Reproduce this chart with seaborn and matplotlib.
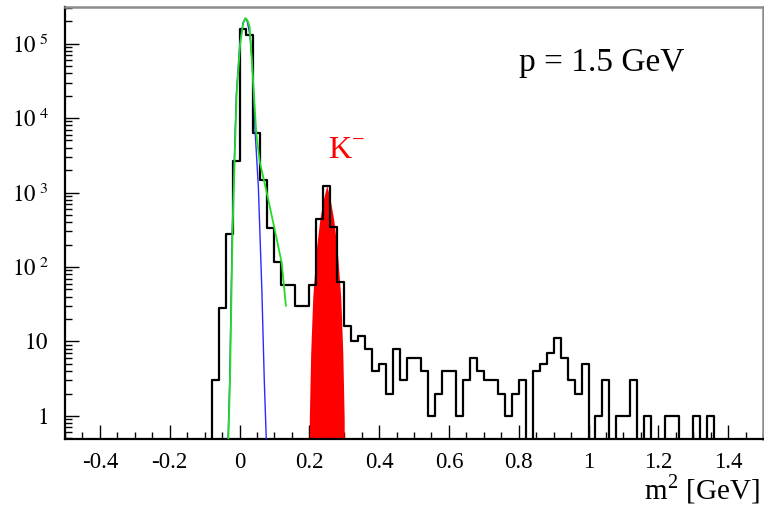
import numpy as np
import pandas as pd
import matplotlib
matplotlib.use("Agg")
import matplotlib.pyplot as plt
import seaborn as sns
from matplotlib.ticker import MultipleLocator, FuncFormatter, LogLocator, NullFormatter

# ---------------- data ----------------
bin_start = -0.10
bin_width = 0.02
counts = [0,
          3, 28, 277, 2650, 156000, 130000, 6300, 1470, 334, 117,
          57, 57, 30, 30, 57, 435, 1220, 345, 63, 16,
          10, 12, 8, 4, 5, 2, 8, 3, 6, 6,
          4, 1, 2, 4, 4, 1, 3, 6, 4, 3,
          3, 2, 1, 2, 3, 0, 4, 5, 7, 11,
          6, 3, 2, 5, 0, 1, 3, 0, 1, 1,
          3, 0, 1, 0, 0, 1, 1, 0, 0, 1,
          0, 1,
          0]

blue_x = [-0.033, -0.028, -0.021, -0.015, -0.009, 0.001, 0.010, 0.016, 0.022,
          0.030, 0.037, 0.045, 0.054, 0.064, 0.071, 0.077]
blue_y = [0.45, 3.0, 280, 2700, 21000, 100000, 190000, 215000, 200000,
          130000, 50000, 6300, 1200, 50, 3, 0.45]

green_x = [-0.032, -0.027, -0.020, -0.014, -0.008, 0.002, 0.011, 0.017, 0.023,
           0.029, 0.037, 0.048, 0.058, 0.078, 0.099, 0.121, 0.133]
green_y = [0.45, 3.4, 285, 2700, 22000, 100000, 190000, 220000, 205000,
           170000, 45000, 6300, 2600, 1000, 350, 113, 30]

kaon_x = [0.200, 0.204, 0.210, 0.220, 0.230, 0.240, 0.250,
          0.260, 0.270, 0.280, 0.290, 0.296, 0.300]
kaon_y = [0.9, 7, 40, 170, 430, 800, 1250,
          800, 430, 170, 40, 7, 0.9]

x_tick_values = [-0.4, -0.2, 0, 0.2, 0.4, 0.6, 0.8, 1, 1.2, 1.4]

# ---------------- style ----------------
sns.set_style("ticks")
plt.rcParams["font.family"] = ["Liberation Serif", "DejaVu Serif"]
plt.rcParams["mathtext.fontset"] = "stix"

W, H = 764, 512
fig = plt.figure(figsize=(W / 100, H / 100), dpi=100)
L, R, T, B = 65, 763, 7, 439
ax = fig.add_axes([L / W, 1 - B / H, (R - L) / W, (B - T) / H])

n = len(counts)
centers = [bin_start + bin_width * (i + 0.5) for i in range(n)]
df = pd.DataFrame({"m2": centers, "n": counts})

# kaon band (filled)
ax.fill_between(kaon_x, kaon_y, 1e-3, color="#ff0000", linewidth=0, zorder=2)

# histogram
sns.histplot(data=df, x="m2", weights="n", binwidth=bin_width,
             binrange=(bin_start, bin_start + bin_width * n), element="step",
             fill=False, color="black", linewidth=1.6, ax=ax, zorder=3)

# fit curves
sns.lineplot(x=blue_x, y=blue_y, color="#2b2bff", linewidth=1.0, sort=False,
             estimator=None, ax=ax, zorder=4, legend=False)
sns.lineplot(x=green_x, y=green_y, color="#22dd22", linewidth=1.3, sort=False,
             estimator=None, ax=ax, zorder=5, legend=False)

ax.set_yscale("log")
ax.set_xlim(-0.5, 1.5)
ax.set_ylim(0.49, 3.1e5)
ax.set_xlabel("")
ax.set_ylabel("")

# ticks
ax.xaxis.set_major_locator(plt.FixedLocator(x_tick_values))
ax.xaxis.set_minor_locator(MultipleLocator(0.05))
ax.xaxis.set_major_formatter(FuncFormatter(lambda v, p: ("%g" % round(v, 2)) if abs(v) > 1e-9 else "0"))

ax.yaxis.set_major_locator(LogLocator(base=10, numticks=20))
ax.yaxis.set_minor_locator(LogLocator(base=10, subs=np.arange(2, 10), numticks=20))
ax.yaxis.set_minor_formatter(NullFormatter())


def ylab(v, p):
    e = int(round(np.log10(v)))
    if e == 0:
        return r"$1\ \ \ \ \ \ $"
    if e == 1:
        return r"$10\ \ \ \ $"
    return r"$10^{\ %d}$" % e


ax.yaxis.set_major_formatter(FuncFormatter(ylab))

ax.tick_params(which="both", direction="in", top=False, right=False,
               colors="black", labelsize=16.5, width=1.0)
ax.tick_params(which="major", length=10)
ax.tick_params(which="minor", length=5)
ax.tick_params(axis="x", pad=9)
ax.tick_params(axis="y", pad=12)

for s in ["left", "bottom"]:
    ax.spines[s].set_color("black")
    ax.spines[s].set_linewidth(1.6)
for s in ["top", "right"]:
    ax.spines[s].set_color("#8c8c8c")
    ax.spines[s].set_linewidth(1.8)

# texts
ax.text(0.650, 0.852, "p = 1.5 GeV", transform=ax.transAxes, fontsize=24,
        ha="left", va="baseline", color="black")
ax.text(0.404, 0.650, r"K$^{\mathregular{-}}$", transform=ax.transAxes, fontsize=23,
        ha="center", va="baseline", color="#ff0000")
ax.text(0.9957, -0.141, r"m$^{\mathregular{2}}$ [GeV]", transform=ax.transAxes,
        fontsize=21, ha="right", va="baseline", color="black", clip_on=False)

fig.savefig("out.png", dpi=100)
